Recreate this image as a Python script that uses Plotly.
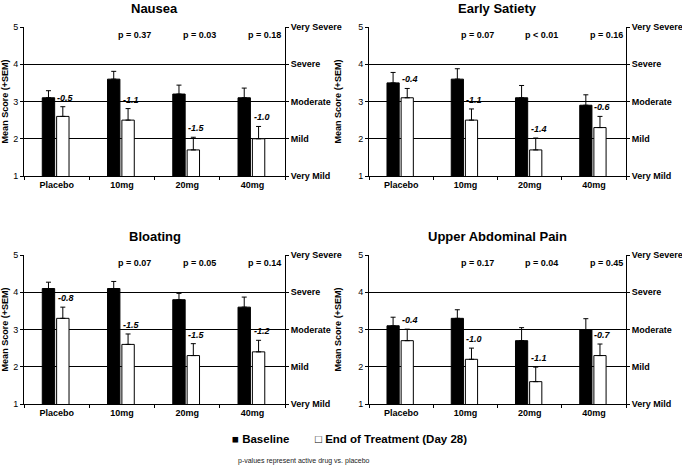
import plotly.graph_objects as go

categories = ["Placebo", "10mg", "20mg", "40mg"]
severity_vals = [1, 2, 3, 4, 5]
severity_labels = ["Very Mild", "Mild", "Moderate", "Severe", "Very Severe"]

titles = ["Nausea", "Early Satiety", "Bloating", "Upper Abdominal Pain"]
series_names = ["Baseline", "End of Treatment (Day 28)"]
footnote = "p-values represent active drug vs. placebo"

nausea_base = [3.1, 3.6, 3.2, 3.1]
nausea_base_sem = [0.19, 0.21, 0.24, 0.26]
nausea_end = [2.6, 2.5, 1.7, 2.0]
nausea_end_sem = [0.26, 0.31, 0.34, 0.33]
nausea_change = ["-0.5", "-1.1", "-1.5", "-1.0"]
nausea_p = ["", "p = 0.37", "p = 0.03", "p = 0.18"]

satiety_base = [3.5, 3.6, 3.1, 2.9]
satiety_base_sem = [0.28, 0.28, 0.33, 0.28]
satiety_end = [3.1, 2.5, 1.7, 2.3]
satiety_end_sem = [0.25, 0.30, 0.32, 0.30]
satiety_change = ["-0.4", "-1.1", "-1.4", "-0.6"]
satiety_p = ["", "p = 0.07", "p < 0.01", "p = 0.16"]

bloating_base = [4.1, 4.1, 3.8, 3.6]
bloating_base_sem = [0.17, 0.19, 0.17, 0.27]
bloating_end = [3.3, 2.6, 2.3, 2.4]
bloating_end_sem = [0.30, 0.28, 0.32, 0.31]
bloating_change = ["-0.8", "-1.5", "-1.5", "-1.2"]
bloating_p = ["", "p = 0.07", "p = 0.05", "p = 0.14"]

pain_base = [3.1, 3.3, 2.7, 3.0]
pain_base_sem = [0.23, 0.23, 0.35, 0.29]
pain_end = [2.7, 2.2, 1.6, 2.3]
pain_end_sem = [0.31, 0.30, 0.39, 0.31]
pain_change = ["-0.4", "-1.0", "-1.1", "-0.7"]
pain_p = ["", "p = 0.17", "p = 0.04", "p = 0.45"]

panels = [
    (nausea_base, nausea_base_sem, nausea_end, nausea_end_sem, nausea_change, nausea_p),
    (satiety_base, satiety_base_sem, satiety_end, satiety_end_sem, satiety_change, satiety_p),
    (bloating_base, bloating_base_sem, bloating_end, bloating_end_sem, bloating_change, bloating_p),
    (pain_base, pain_base_sem, pain_end, pain_end_sem, pain_change, pain_p),
]

W, H = 682, 467
FONT = "Liberation Sans, Arial, Helvetica, sans-serif"

# pixel boxes of the four plot areas (left, right, top, bottom)
boxes = [
    (24, 285, 27, 176),
    (369, 626, 27, 176),
    (24, 285, 255, 404),
    (369, 626, 255, 404),
]

fig = go.Figure()
layout = dict(
    width=W, height=H,
    margin=dict(l=0, r=0, t=0, b=0, autoexpand=False),
    paper_bgcolor="white", plot_bgcolor="white",
    font=dict(family=FONT, size=9, color="black"),
    showlegend=False,
    barmode="overlay",
)
annotations = []

for i, (base, bsem, end, esem, chg, pv) in enumerate(panels):
    n = i + 1
    xa = "x" if n == 1 else f"x{n}"
    ya = "y" if n == 1 else f"y{n}"
    ya_r = f"y{n + 4}"
    l, r, t, b = boxes[i]
    xdom = [l / W, r / W]
    ydom = [1 - b / H, 1 - t / H]

    fig.add_trace(go.Bar(
        x=categories, y=base, name=series_names[0], xaxis=xa, yaxis=ya,
        offset=-0.22, width=0.19,
        marker=dict(color="black", line=dict(color="black", width=1)),
        error_y=dict(type="data", symmetric=False, array=bsem, arrayminus=[0] * len(bsem),
                     color="black", thickness=1, width=2.5),
        legendgroup="base", hoverinfo="y",
    ))
    fig.add_trace(go.Bar(
        x=categories, y=end, name=series_names[1], xaxis=xa, yaxis=ya_r,
        offset=0.0, width=0.19,
        marker=dict(color="white", line=dict(color="black", width=1)),
        error_y=dict(type="data", symmetric=False, array=esem, arrayminus=[0] * len(esem),
                     color="black", thickness=1, width=2.5),
        legendgroup="end", hoverinfo="y",
    ))

    xkey = "xaxis" if n == 1 else f"xaxis{n}"
    ykey = "yaxis" if n == 1 else f"yaxis{n}"
    layout[xkey] = dict(
        domain=xdom, anchor=ya, type="category", range=[-0.5, 3.5],
        showline=True, linecolor="black", linewidth=1,
        ticks="outside", ticklen=3, tickcolor="black", tickson="boundaries",
        tickfont=dict(family=FONT, size=9, color="black", weight="bold"),
        showgrid=False, zeroline=False, fixedrange=True, automargin=False,
    )
    layout[ykey] = dict(
        domain=ydom, anchor=xa, range=[1, 5],
        tickvals=severity_vals, ticks="outside", ticklen=3, tickcolor="black",
        showline=True, linecolor="black", linewidth=1,
        showgrid=False, zeroline=False,
        minor=dict(tickvals=[2, 3, 4], showgrid=True, gridcolor="black", gridwidth=1, ticks=""),
        tickfont=dict(family=FONT, size=9, color="black"),
        title=dict(text="Mean Score (+SEM)", font=dict(family=FONT, size=9, color="black", weight="bold")),
        fixedrange=True, automargin=False,
    )
    layout[f"yaxis{n + 4}"] = dict(
        overlaying=ya, anchor=xa, side="right", range=[1, 5],
        tickvals=severity_vals, ticktext=severity_labels,
        ticks="outside", ticklen=3, tickcolor="black",
        showline=True, linecolor="black", linewidth=1,
        showgrid=False, zeroline=False,
        tickfont=dict(family=FONT, size=9, color="black", weight="bold"),
        fixedrange=True, automargin=False,
    )

    # panel title
    annotations.append(dict(
        text=titles[i], xref="paper", yref="paper",
        x=(l + r) / 2 / W, y=1 - (t - 19) / H, xanchor="center", yanchor="middle",
        showarrow=False, font=dict(family=FONT, size=13, color="black", weight="bold"),
    ))
    # change labels and p-values
    for j in range(len(categories)):
        annotations.append(dict(
            text=chg[j], xref=xa, yref=ya, x=j + 0.14, y=end[j] + esem[j],
            xanchor="center", yanchor="bottom", yshift=2, showarrow=False,
            font=dict(family=FONT, size=9, color="black", weight="bold", style="italic"),
        ))
        if pv[j]:
            annotations.append(dict(
                text=pv[j], xref=xa, yref=ya, x=j + 0.19, y=5, yshift=-8,
                xanchor="center", yanchor="middle", showarrow=False,
                font=dict(family=FONT, size=9, color="black", weight="bold"),
            ))

# legend drawn as text keys, as in the original figure
legend_font = dict(family=FONT, size=11.5, color="black", weight="bold")
annotations.append(dict(
    text="\u25A0 " + series_names[0], xref="paper", yref="paper",
    x=230 / W, y=1 - 439 / H, xanchor="left", yanchor="middle", showarrow=False,
    font=legend_font,
))
annotations.append(dict(
    text="\u25A1 " + series_names[1], xref="paper", yref="paper",
    x=313 / W, y=1 - 439 / H, xanchor="left", yanchor="middle", showarrow=False,
    font=legend_font,
))
annotations.append(dict(
    text=footnote, xref="paper", yref="paper",
    x=303.5 / W, y=1 - 461 / H, xanchor="center", yanchor="middle", showarrow=False,
    font=dict(family=FONT, size=7, color="#222222"),
))
layout["annotations"] = annotations
fig.update_layout(**layout)
fig.write_html(
    "out.html",
    config={"displayModeBar": False, "staticPlot": False},
    post_script="document.body.style.margin='0';document.body.style.overflow='hidden';",
)
